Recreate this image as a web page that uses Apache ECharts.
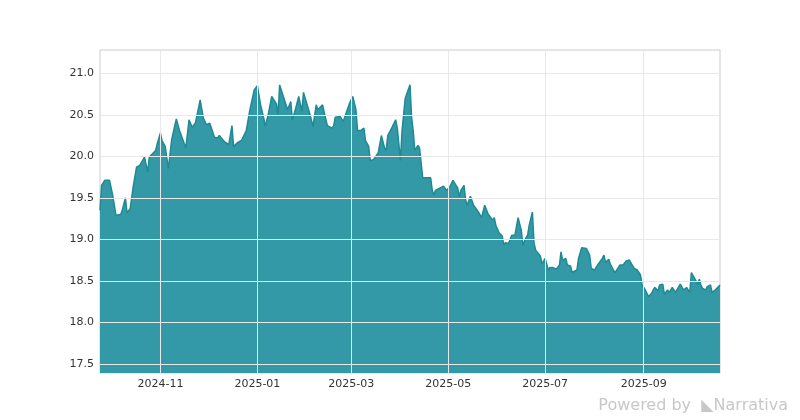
<!DOCTYPE html>
<html>
<head>
<meta charset="utf-8">
<script src="https://cdn.jsdelivr.net/npm/echarts@6/dist/echarts.min.js"></script>
<style>html,body{margin:0;background:#fff}#c{width:800px;height:420px}</style>
</head>
<body>
<div id="c"></div>
<script>
// days counted from 2024-09-24
const startDate = '2024-09-24';
const dayOffset = [0,1,3,6,8,10,13,14,16,17,19,21,23,25,28,30,31,35,36,38,39,41,42,43,45,48,50,54,56,58,60,63,65,67,69,72,74,75,78,81,83,84,87,89,92,94,97,99,101,103,104,106,108,109,111,112,113,116,118,120,121,123,125,127,128,130,132,134,136,137,140,141,143,146,147,148,151,153,155,157,159,161,162,164,166,167,169,170,172,175,177,179,180,181,184,186,187,189,190,192,195,196,197,198,200,201,203,205,208,209,210,211,214,216,218,220,222,225,226,227,229,230,231,233,235,238,240,242,243,244,247,248,249,251,253,254,255,257,259,261,263,265,266,267,268,269,270,272,273,274,275,277,278,279,280,282,283,285,287,289,290,291,293,294,296,297,298,300,301,303,304,306,307,308,309,311,313,316,317,318,320,321,323,324,325,327,329,331,333,336,338,340,341,343,344,345,347,348,349,351,352,354,355,357,358,360,361,362,363,365,367,369,370,371,372,374,376,377,378,379,381,382,384,385,387,388,390];
const price = [19.35,19.65,19.71,19.71,19.53,19.29,19.30,19.35,19.50,19.32,19.37,19.65,19.87,19.89,19.99,19.81,19.99,20.07,20.15,20.28,20.19,20.12,20.12,19.85,20.19,20.45,20.31,20.10,20.44,20.35,20.40,20.68,20.46,20.38,20.40,20.23,20.22,20.25,20.18,20.14,20.37,20.12,20.17,20.19,20.31,20.53,20.80,20.85,20.62,20.46,20.36,20.52,20.72,20.70,20.63,20.49,20.86,20.68,20.56,20.66,20.44,20.57,20.72,20.54,20.77,20.64,20.51,20.36,20.62,20.56,20.62,20.53,20.37,20.34,20.37,20.47,20.48,20.42,20.53,20.64,20.72,20.56,20.31,20.31,20.34,20.19,20.12,19.95,19.96,20.04,20.25,20.10,20.07,20.25,20.36,20.44,20.34,19.95,20.31,20.70,20.86,20.47,20.31,20.07,20.13,20.10,19.74,19.74,19.74,19.59,19.53,19.59,19.62,19.64,19.59,19.63,19.71,19.62,19.51,19.59,19.65,19.47,19.41,19.52,19.41,19.33,19.26,19.41,19.43,19.31,19.23,19.26,19.17,19.08,19.04,18.93,18.96,18.95,19.05,19.05,19.26,19.11,18.93,18.95,19.02,19.05,19.17,19.33,18.96,18.87,18.85,18.80,18.70,18.68,18.77,18.63,18.66,18.66,18.64,18.69,18.85,18.75,18.77,18.69,18.68,18.60,18.59,18.63,18.77,18.90,18.88,18.89,18.91,18.81,18.65,18.63,18.69,18.77,18.81,18.72,18.76,18.70,18.63,18.60,18.63,18.69,18.69,18.74,18.75,18.65,18.63,18.57,18.45,18.39,18.35,18.31,18.35,18.39,18.42,18.38,18.45,18.46,18.34,18.39,18.36,18.42,18.39,18.36,18.35,18.46,18.39,18.42,18.41,18.36,18.60,18.53,18.46,18.52,18.45,18.41,18.39,18.43,18.45,18.36,18.39,18.41,18.45];
const yTicks = [17.5,18.0,18.5,19.0,19.5,20.0,20.5,21.0];
const xTicks = ['2024-11-01','2025-01-01','2025-03-01','2025-05-01','2025-07-01','2025-09-01'];

const DAY = 86400000;
const t0 = new Date(startDate + 'T00:00:00Z').getTime();
const seriesData = dayOffset.map((d, i) => [t0 + d * DAY, price[i]]);
const ts = s => new Date(s + 'T00:00:00Z').getTime();

const chart = echarts.init(document.getElementById('c'));
chart.setOption({
  animation: false,
  grid: { left: 100, right: 80, top: 50, bottom: 47, show: true, borderColor: '#cccccc', borderWidth: 1 },
  xAxis: {
    type: 'time', min: t0, max: t0 + 390 * DAY,
    axisLine: { show: false }, axisTick: { show: false }, axisLabel: { show: false }, splitLine: { show: false }
  },
  yAxis: {
    type: 'value', min: 17.39, max: 21.28,
    axisLine: { show: false }, axisTick: { show: false }, axisLabel: { show: false }, splitLine: { show: false }
  },
  series: [{
    type: 'line',
    data: seriesData,
    symbol: 'none',
    lineStyle: { color: '#1f8a94', width: 1.5 },
    areaStyle: { color: '#3399a6', opacity: 1, origin: 'start' },
    z: 3,
    markLine: {
      silent: true, symbol: 'none', animation: false,
      lineStyle: { color: '#e8e8e8', type: 'solid', width: 1 },
      label: { position: 'start', color: '#333', fontSize: 11, fontFamily: 'DejaVu Sans' },
      data: [
        ...yTicks.map(v => ({ yAxis: v, label: { formatter: v.toFixed(1), distance: 6 } })),
        ...xTicks.map(s => ({ xAxis: ts(s), label: { formatter: s.slice(0, 7), distance: 6 } }))
      ]
    }
  }],
  graphic: [{
    type: 'text', right: 12, bottom: 6,
    style: { text: 'Powered by  ◣Narrativa', fill: '#c8c8c8', fontSize: 16, fontFamily: 'DejaVu Sans' }
  }]
});
</script>
</body>
</html>
